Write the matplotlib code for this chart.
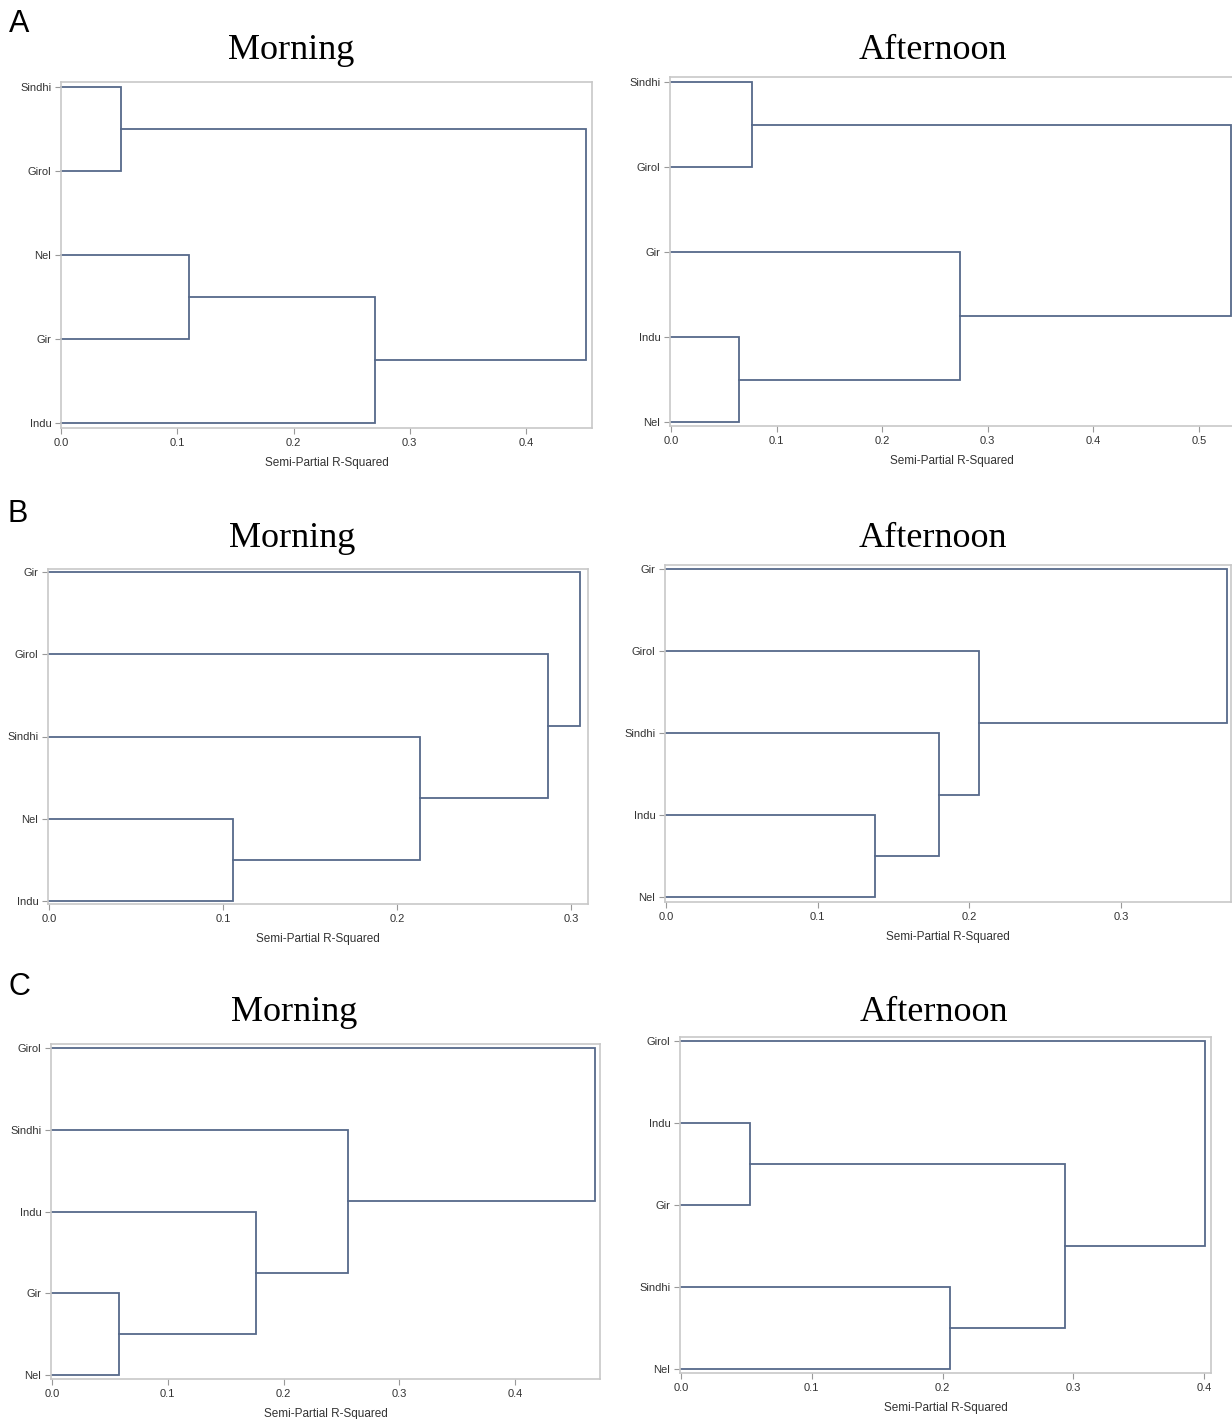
import matplotlib.pyplot as plt

plt.rcParams['font.family'] = ['Liberation Sans', 'DejaVu Sans']

# leaf order (top to bottom), merge pairs and merge heights for each dendrogram
# leaves are 0..4, merge k creates cluster 5+k
a_morning_leaves = ["Sindhi", "Girol", "Nel", "Gir", "Indu"]
a_morning_pairs = [(0, 1), (2, 3), (6, 4), (5, 7)]
a_morning_heights = [0.052, 0.110, 0.270, 0.452]

a_afternoon_leaves = ["Sindhi", "Girol", "Gir", "Indu", "Nel"]
a_afternoon_pairs = [(0, 1), (3, 4), (2, 6), (5, 7)]
a_afternoon_heights = [0.077, 0.064, 0.274, 0.530]

b_morning_leaves = ["Gir", "Girol", "Sindhi", "Nel", "Indu"]
b_morning_pairs = [(3, 4), (2, 5), (1, 6), (0, 7)]
b_morning_heights = [0.106, 0.213, 0.287, 0.305]

b_afternoon_leaves = ["Gir", "Girol", "Sindhi", "Indu", "Nel"]
b_afternoon_pairs = [(3, 4), (2, 5), (1, 6), (0, 7)]
b_afternoon_heights = [0.138, 0.180, 0.206, 0.370]

c_morning_leaves = ["Girol", "Sindhi", "Indu", "Gir", "Nel"]
c_morning_pairs = [(3, 4), (2, 5), (1, 6), (0, 7)]
c_morning_heights = [0.058, 0.176, 0.256, 0.469]

c_afternoon_leaves = ["Girol", "Indu", "Gir", "Sindhi", "Nel"]
c_afternoon_pairs = [(1, 2), (3, 4), (5, 6), (0, 7)]
c_afternoon_heights = [0.053, 0.206, 0.294, 0.401]

x_ticks_a_m = [0.0, 0.1, 0.2, 0.3, 0.4]
x_ticks_a_a = [0.0, 0.1, 0.2, 0.3, 0.4, 0.5]
x_ticks_b = [0.0, 0.1, 0.2, 0.3]
x_ticks_c = [0.0, 0.1, 0.2, 0.3, 0.4]

W, H = 1232, 1419
LINE = '#56698a'
FRAME = '#c8c8c8'
TXT = '#333333'

fig = plt.figure(figsize=(W / 100, H / 100), dpi=100)

# layout in pixels: box (left, top, right, bottom), x of zero, px per unit, first/last leaf y
panels = [
    (a_morning_leaves, a_morning_pairs, a_morning_heights, x_ticks_a_m,
     (61, 82, 592, 428), 61, 1162.5, 87, 423),
    (a_afternoon_leaves, a_afternoon_pairs, a_afternoon_heights, x_ticks_a_a,
     (670, 77, 1233, 426), 671, 1056, 82, 422),
    (b_morning_leaves, b_morning_pairs, b_morning_heights, x_ticks_b,
     (48, 569, 588, 904), 49, 1740, 572, 901),
    (b_afternoon_leaves, b_afternoon_pairs, b_afternoon_heights, x_ticks_b,
     (665, 565, 1231, 902), 666, 1517, 569, 897),
    (c_morning_leaves, c_morning_pairs, c_morning_heights, x_ticks_c,
     (51, 1044, 600, 1379), 52, 1157.5, 1048, 1375),
    (c_afternoon_leaves, c_afternoon_pairs, c_afternoon_heights, x_ticks_c,
     (680, 1037, 1211, 1373), 681, 1307.5, 1041, 1369),
]

for leaves, pairs, heights, xticks, box, x0, ppu, ly0, ly1 in panels:
    l, t, r, b = box
    ax = fig.add_axes([l / W, 1 - b / H, (r - l) / W, (b - t) / H])
    n = len(leaves)
    upp = (n - 1) / (ly1 - ly0)
    ax.set_xlim((l - x0) / ppu, (r - x0) / ppu)
    ax.set_ylim(n - 1 + (b - ly1) * upp, -(ly0 - t) * upp)

    # node positions: x = height, y = leaf slot
    xs = [0.0] * n
    ys = list(range(n))
    for (i, j), h in zip(pairs, heights):
        ax.plot([xs[i], h, h, xs[j]], [ys[i], ys[i], ys[j], ys[j]],
                color=LINE, lw=1.3, solid_joinstyle='miter', clip_on=False)
        xs.append(h)
        ys.append((ys[i] + ys[j]) / 2)

    ax.set_yticks(range(n))
    ax.set_yticklabels(leaves)
    ax.set_xticks(xticks)
    ax.set_xticklabels(['%.1f' % v for v in xticks])
    ax.tick_params(length=4, width=0.8, color='#999999', labelsize=8,
                   labelcolor=TXT, pad=3)
    for s in ax.spines.values():
        s.set_color(FRAME)
        s.set_linewidth(1.2)
    ax.set_xlabel('Semi-Partial R-Squared', fontsize=8.5, color=TXT)
    ax.xaxis.set_label_coords(0.5, -29 / (b - t))

# titles and panel letters
titles = [('Morning', 291, 59), ('Afternoon', 933, 59),
          ('Morning', 292, 547), ('Afternoon', 933, 547),
          ('Morning', 294, 1021), ('Afternoon', 934, 1021)]
for s, x, y in titles:
    fig.text(x / W, 1 - y / H, s, ha='center', va='baseline',
             family='Liberation Serif', fontsize=26)

for s, x, y in [('A', 9, 32), ('B', 8, 522), ('C', 9, 995)]:
    fig.text(x / W, 1 - y / H, s, ha='left', va='baseline',
             family='Liberation Sans', fontsize=22)

fig.savefig('out.png', dpi=100)
